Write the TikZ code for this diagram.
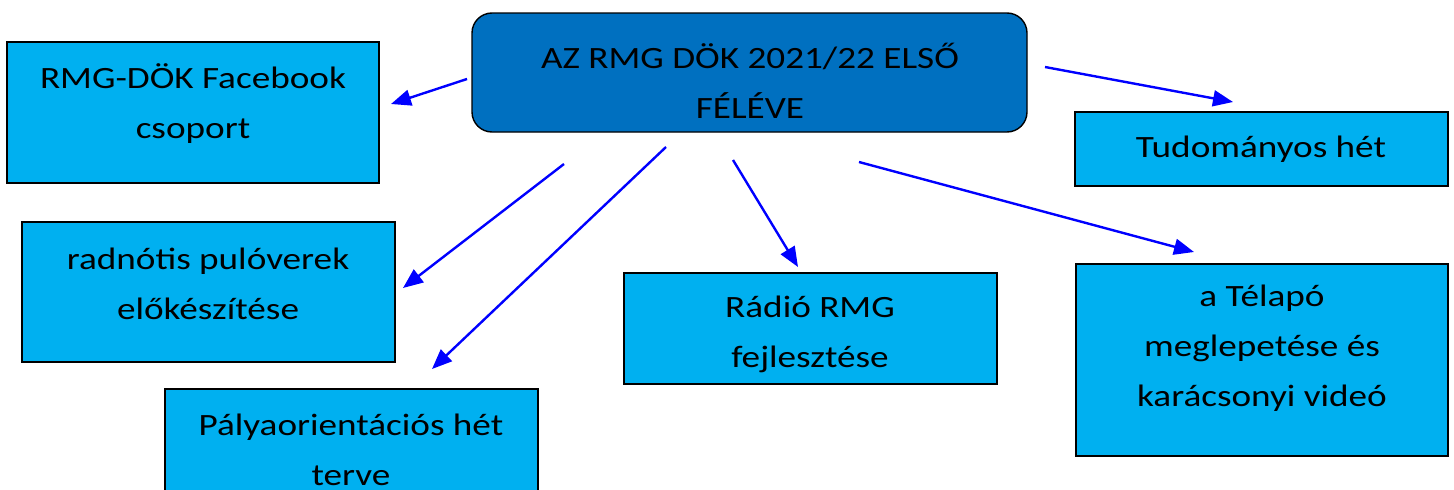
\documentclass[tikz,border=0pt]{standalone}
\usepackage{fontspec}
\setmainfont{Carlito}[FakeStretch=1.2]
\usetikzlibrary{arrows.meta}
\definecolor{mainblue}{HTML}{0070C0}
\definecolor{boxblue}{HTML}{00B0F0}
\definecolor{arrblue}{HTML}{0000FF}
\tikzset{
  boxshape/.style={draw=black, line width=1.4pt, fill=boxblue, rectangle, inner sep=0pt},
  mainshape/.style={draw=black, line width=1.4pt, fill=mainblue, rectangle, rounded corners=20pt, inner sep=0pt},
  boxtext/.style={align=center, inner sep=0pt, font=\fontsize{31}{50}\selectfont},
  conn/.style={draw=arrblue, line width=2.4pt, -{Triangle[length=20pt,width=16pt]}}
}
\begin{document}
\begin{tikzpicture}[x=1pt,y=-1pt]
\useasboundingbox (0,0) rectangle (1454,490);
% boxes
\node[mainshape, minimum width=555pt, minimum height=119pt] (main) at (749.5,72.5) {};
\node[boxshape, minimum width=372pt, minimum height=141pt] (fb) at (193,112.5) {};
\node[boxshape, minimum width=373pt, minimum height=74pt] (tud) at (1261.5,149) {};
\node[boxshape, minimum width=373pt, minimum height=140pt] (rad) at (208.5,292) {};
\node[boxshape, minimum width=373pt, minimum height=111pt] (radio) at (810.5,328.5) {};
\node[boxshape, minimum width=372pt, minimum height=192pt] (tel) at (1262,360) {};
\node[boxshape, minimum width=373pt, minimum height=140pt] (paly) at (351.5,459) {};
% texts
\node[boxtext] (main-t) at (750,81) {AZ RMG DÖK 2021/22 ELSŐ\\FÉLÉVE};
\node[boxtext] (fb-t) at (193,104) {RMG-DÖK Facebook\\csoport};
\node[boxtext] (tud-t) at (1261,149) {Tudományos hét};
\node[boxtext] (rad-t) at (208,283.5) {radnótis pulóverek\\előkészítése};
\node[boxtext] (radio-t) at (810,334.5) {Rádió RMG\\fejlesztése};
\node[boxtext] (tel-t) at (1262,348) {a Télapó\\meglepetése és\\karácsonyi videó};
\node[boxtext] (paly-t) at (351,450) {Pályaorientációs hét\\terve};
% arrow end points
\coordinate (a1s) at (467,79);   \coordinate (a1e) at (391,104);
\coordinate (a2s) at (1045,67);  \coordinate (a2e) at (1233,102);
\coordinate (a3s) at (564,164);  \coordinate (a3e) at (403,288);
\coordinate (a4s) at (666,147);  \coordinate (a4e) at (432,369);
\coordinate (a5s) at (733,160);  \coordinate (a5e) at (798,267);
\coordinate (a6s) at (859,162);  \coordinate (a6e) at (1194,252);
\draw[conn] (a1s) -- (a1e);
\draw[conn] (a2s) -- (a2e);
\draw[conn] (a3s) -- (a3e);
\draw[conn] (a4s) -- (a4e);
\draw[conn] (a5s) -- (a5e);
\draw[conn] (a6s) -- (a6e);
\end{tikzpicture}
\end{document}
